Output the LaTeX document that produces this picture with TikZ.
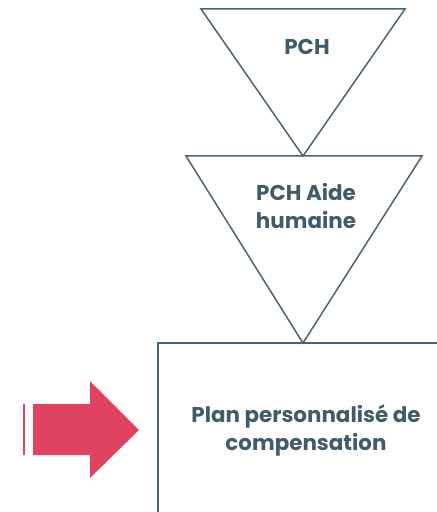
\documentclass[tikz,border=0pt]{standalone}
\usepackage{fontspec}
\setmainfont{Poppins}
\usepackage{tikz}
\usetikzlibrary{positioning, calc}

\definecolor{slateline}{HTML}{4A6375}
\definecolor{slatetext}{HTML}{3F5B6C}
\definecolor{arrowred}{HTML}{E0435F}

\begin{document}
\begin{tikzpicture}[
    x=1bp, y=-1bp,
    tri/.style={draw=slateline, line width=1.5bp},
    label/.style={text=slatetext, font=\fontsize{21.5}{28}\selectfont\bfseries, align=center, inner sep=0pt},
    planbox/.style={rectangle, draw=slateline, line width=1.5bp, minimum width=296bp, minimum height=174bp, text=slatetext, font=\fontsize{21.5}{28}\selectfont\bfseries, align=center}
]
\useasboundingbox (0,0) rectangle (437,512);
\clip (0,0) rectangle (437,512);

% Triangles
\coordinate (pchL) at (201,9);
\coordinate (pchR) at (405,9);
\coordinate (pchTip) at (303,156);
\coordinate (aideL) at (186,156);
\coordinate (aideR) at (422,156);
\coordinate (aideTip) at (303,343);

\draw [tri] (pchL) -- (pchR) -- (pchTip) -- cycle;
\draw [tri] (aideL) -- (aideR) -- (aideTip) -- cycle;

\node (pch) [label] at (307,47) {PCH};
\node (aide) [label] at (306,206) {PCH Aide\\humaine};

% Plan box
\node (plan) [planbox] at (306,430) {Plan personnalisé de\\compensation};

% Arrow
\fill [arrowred] (23,404) rectangle (25,455);
\fill [arrowred] (33,404) -- (90,404) -- (90,381) -- (139,430) -- (90,478) -- (90,455) -- (33,455) -- cycle;

\end{tikzpicture}
\end{document}
